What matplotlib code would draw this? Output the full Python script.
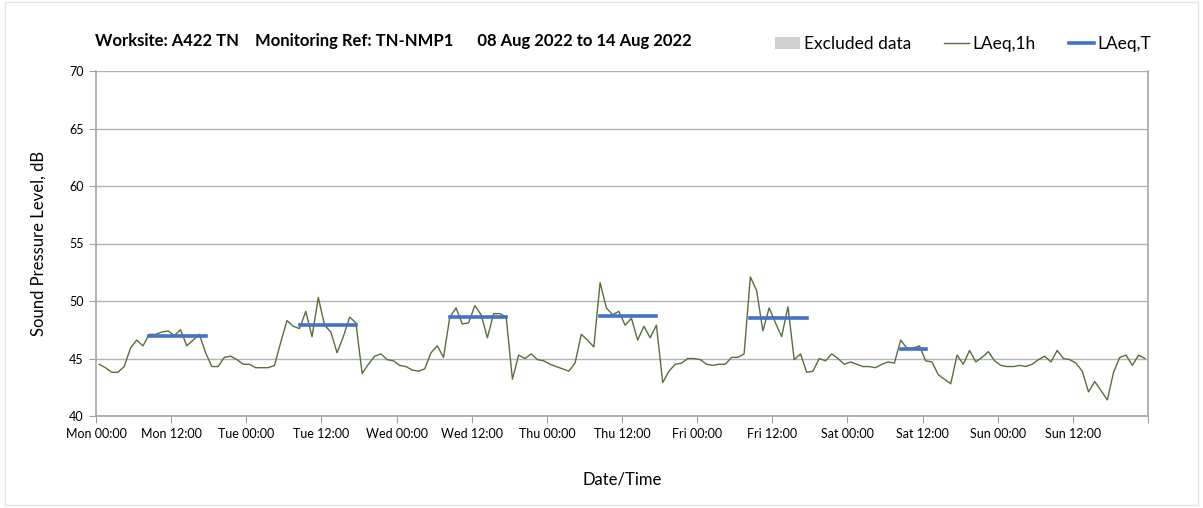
import numpy as np
import matplotlib.pyplot as plt
from matplotlib.patches import Patch, Rectangle
from matplotlib.lines import Line2D
from matplotlib.ticker import MultipleLocator

plt.rcParams['font.family'] = ['Lato', 'DejaVu Sans']

# LAeq,1h hourly values, Mon 00:00 to Sun 23:00 (plotted at the half hour)
laeq_1h = [
    44.5, 44.2, 43.8, 43.8, 44.3, 45.9, 46.6, 46.1, 47.1, 47.1, 47.3, 47.4,
    47.0, 47.5, 46.1, 46.6, 47.1, 45.5, 44.3, 44.3, 45.1, 45.2, 44.9, 44.5,
    44.5, 44.2, 44.2, 44.2, 44.4, 46.4, 48.3, 47.8, 47.6, 49.1, 46.9, 50.3,
    47.9, 47.3, 45.5, 46.9, 48.6, 48.1, 43.7, 44.5, 45.2, 45.4, 44.9, 44.8,
    44.4, 44.3, 44.0, 43.9, 44.1, 45.5, 46.1, 45.1, 48.6, 49.4, 48.0, 48.1,
    49.6, 48.8, 46.8, 48.9, 48.9, 48.6, 43.2, 45.3, 45.0, 45.4, 44.9, 44.8,
    44.5, 44.3, 44.1, 43.9, 44.6, 47.1, 46.6, 46.0, 51.6, 49.4, 48.8, 49.1,
    47.9, 48.5, 46.6, 47.8, 46.8, 47.9, 42.9, 43.9, 44.5, 44.6, 45.0, 45.0,
    44.9, 44.5, 44.4, 44.5, 44.5, 45.1, 45.1, 45.4, 52.1, 50.9, 47.4, 49.4,
    48.1, 46.9, 49.5, 44.9, 45.4, 43.8, 43.9, 45.0, 44.8, 45.4, 45.0, 44.5,
    44.7, 44.5, 44.3, 44.3, 44.2, 44.5, 44.7, 44.6, 46.6, 45.9, 45.9, 46.1,
    44.8, 44.7, 43.6, 43.2, 42.8, 45.3, 44.5, 45.7, 44.7, 45.1, 45.6, 44.8,
    44.4, 44.3, 44.3, 44.4, 44.3, 44.5, 44.9, 45.2, 44.7, 45.7, 45.0, 44.9,
    44.6, 43.9, 42.1, 43.0, 42.2, 41.4, 43.8, 45.1, 45.3, 44.4, 45.3, 45.0,
]
hours = np.arange(len(laeq_1h)) + 0.5

# LAeq,T periods (hours from Mon 00:00)
laeq_t = [46.95, 47.9, 48.65, 48.7, 48.55, 45.85]
t_start = [8.5, 32.5, 56.5, 80.5, 104.5, 128.5]
t_end = [17.5, 41.5, 65.5, 89.5, 113.5, 132.5]

tick_labels = ["Mon 00:00", "Mon 12:00", "Tue 00:00", "Tue 12:00", "Wed 00:00",
               "Wed 12:00", "Thu 00:00", "Thu 12:00", "Fri 00:00", "Fri 12:00",
               "Sat 00:00", "Sat 12:00", "Sun 00:00", "Sun 12:00", ""]

green = '#55703a'
blue = '#4472c4'

fig = plt.figure(figsize=(12.03, 5.08), dpi=100)
ax = fig.add_axes([96/1203, 1-416/508, 1052/1203, 345/508])

ax.plot(hours, laeq_1h, color=green, lw=1.0, zorder=3)
for lv, s, e in zip(laeq_t, t_start, t_end):
    ax.plot([s, e], [lv, lv], color=blue, lw=2.6, solid_capstyle='projecting', zorder=4)

ax.set_xlim(0, 168)
ax.set_ylim(40, 70)
ax.set_xticks(np.arange(0, 169, 12))
ax.set_xticklabels(tick_labels, fontsize=9)
ax.xaxis.set_minor_locator(MultipleLocator(24))
ax.yaxis.set_major_locator(MultipleLocator(5))
ax.tick_params(axis='y', labelsize=9, length=5, color='#a0a0a0', pad=4)
ax.tick_params(axis='x', which='major', length=5, color='#a0a0a0', pad=4)
ax.tick_params(axis='x', which='minor', length=0)
ax.grid(axis='y', color='#b3b3b3', lw=1)
ax.grid(axis='x', which='minor', color='#e0e0e0', lw=1.2)
ax.set_axisbelow(True)
ax.spines['top'].set_visible(False)
for sp in ['left', 'bottom', 'right']:
    ax.spines[sp].set_color('#a6a6a6')
    ax.spines[sp].set_linewidth(1.2)

ax.set_ylabel("Sound Pressure Level, dB", fontsize=12, labelpad=16)
ax.set_xlabel("Date/Time", fontsize=12, labelpad=22)

fig.text(95/1203, 1-41/508, "Worksite: A422 TN    Monitoring Ref: TN-NMP1      08 Aug 2022 to 14 Aug 2022",
         fontsize=12, fontweight='bold', va='center', ha='left')

handles = [Patch(facecolor='#d0d0d0', edgecolor='none'),
           Line2D([], [], color=green, lw=1.0),
           Line2D([], [], color=blue, lw=2.6)]
fig.legend(handles, ["Excluded data", "LAeq,1h", "LAeq,T"], ncol=3, frameon=False,
           loc='center right', bbox_to_anchor=(1167/1203, 1-44/508), fontsize=12.5,
           handlelength=1.45, handletextpad=0.2, columnspacing=1.9)

fig.add_artist(Rectangle((5/1203, 3/508), 1193/1203, 503/508, transform=fig.transFigure,
                         fill=False, edgecolor='#e3e3e3', lw=1))

fig.savefig("out.png", dpi=100)
